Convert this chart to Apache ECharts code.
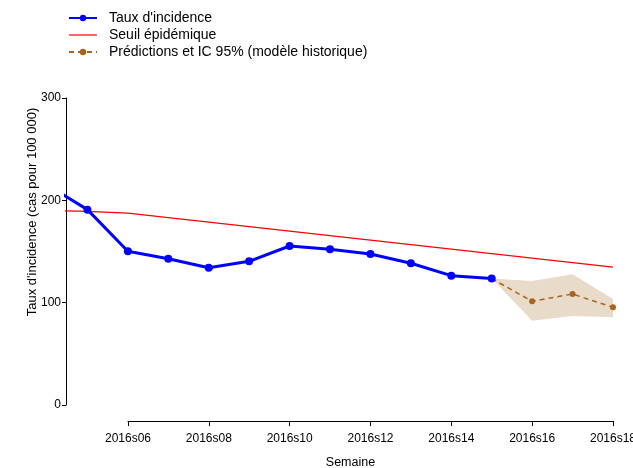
<!DOCTYPE html>
<html>
<head>
<meta charset="utf-8">
<script src="https://cdn.jsdelivr.net/npm/echarts@6/dist/echarts.min.js"></script>
<style>html,body{margin:0;padding:0;background:#fff;}#c{width:633px;height:468px;}</style>
</head>
<body>
<div id="c"></div>
<script>
const weeks = [4, 5, 6, 7, 8, 9, 10, 11, 12, 13, 14, 15];
const incidence = [215, 190.9, 150.2, 143.0, 134.2, 140.4, 155.4, 152.2, 147.6, 138.5, 126.4, 123.5];
const seuilWeeks = [4, 5, 6, 7, 8, 9, 10, 11, 12, 13, 14, 15, 16, 17, 18];
const seuil = [190.0, 189.2, 187.5, 183.1, 178.7, 174.3, 169.9, 165.5, 161.1, 156.7, 152.3, 147.9, 143.5, 139.1, 134.7];
const predWeeks = [15, 16, 17, 18];
const pred = [123.5, 101.3, 108.5, 95.4];
const icLow = [123.5, 82.4, 87.0, 85.7];
const icHigh = [123.5, 121.2, 127.7, 103.6];
const tickWeeks = [6, 8, 10, 12, 14, 16, 18];
const tickLabels = ['2016s06', '2016s08', '2016s10', '2016s12', '2016s14', '2016s16', '2016s18'];
const yTicks = [0, 100, 200, 300];

const FONT = 'Liberation Sans, Arial, Helvetica, sans-serif';
const pair = (xs, ys) => xs.map((x, i) => [x, ys[i]]);

const chart = echarts.init(document.getElementById('c'), null, {renderer: 'canvas'});
chart.setOption({
  animation: false,
  backgroundColor: '#fff',
  textStyle: {fontFamily: FONT},
  legend: {
    orient: 'vertical', left: 68, top: 11, itemGap: 3, itemWidth: 28, itemHeight: 8, padding: 0,
    textStyle: {fontSize: 14, lineHeight: 14, color: '#000', fontFamily: FONT, padding: [0, 0, 0, 7]},
    data: [
      {name: "Taux d'incidence"},
      {name: 'Seuil épidémique', icon: 'path://M0,0H28V1.2H0Z'},
      {name: 'Prédictions et IC 95% (modèle historique)'}
    ]
  },
  grid: [
    {left: 66, right: 20, top: 98, bottom: 63, outerBoundsMode: 'none', containLabel: false},
    {left: 128, right: 20, top: 98, bottom: 47, outerBoundsMode: 'none', containLabel: false}
  ],
  xAxis: [
    {gridIndex: 0, type: 'value', min: 4.47, max: 18, show: false, splitLine: {show: false}},
    {gridIndex: 1, type: 'value', min: 6, max: 18, interval: 2,
      axisLine: {show: true, onZero: false, lineStyle: {color: '#000', width: 1}},
      axisTick: {show: true, length: 5, lineStyle: {color: '#000'}},
      axisLabel: {fontSize: 12, color: '#000', margin: 12, fontFamily: FONT, showMinLabel: true, showMaxLabel: true,
        formatter: v => { const i = tickWeeks.indexOf(v); return i >= 0 ? tickLabels[i] : ''; }},
      splitLine: {show: false},
      name: 'Semaine', nameLocation: 'middle', nameGap: 35, nameMoveOverlap: false,
      nameTextStyle: {fontSize: 12.5, color: '#000', fontFamily: FONT, padding: [0, 40, 0, 0]}
    }
  ],
  yAxis: [
    {gridIndex: 0, type: 'value', min: yTicks[0], max: yTicks[yTicks.length - 1], interval: 100,
      axisLine: {show: true, lineStyle: {color: '#000', width: 1}},
      axisTick: {show: true, length: 4, lineStyle: {color: '#000'}},
      axisLabel: {fontSize: 12, color: '#000', margin: 5, fontFamily: FONT},
      splitLine: {show: false},
      name: "Taux d'incidence (cas pour 100 000)", nameLocation: 'middle', nameGap: 27, nameRotate: 90,
      nameMoveOverlap: false,
      nameTextStyle: {fontSize: 13, color: '#000', fontFamily: FONT, padding: [0, 0, 0, 79]}
    },
    {gridIndex: 1, type: 'value', show: false, min: 0, max: 300}
  ],
  series: [
    {name: 'IC 95%', type: 'custom', xAxisIndex: 0, yAxisIndex: 0, silent: true, z: 1, clip: true,
      data: predWeeks.map((w, i) => [w, icLow[i], icHigh[i]]),
      renderItem: function (params, api) {
        if (params.dataIndex !== 0) return null;
        const pts = [];
        for (let i = 0; i < predWeeks.length; i++) pts.push(api.coord([predWeeks[i], icHigh[i]]));
        for (let i = predWeeks.length - 1; i >= 0; i--) pts.push(api.coord([predWeeks[i], icLow[i]]));
        return {type: 'polygon', shape: {points: pts}, style: {fill: '#E9DBC9', stroke: null}};
      }
    },
    {name: 'Seuil épidémique', type: 'line', xAxisIndex: 0, yAxisIndex: 0, data: pair(seuilWeeks, seuil),
      symbol: 'none', smooth: false, lineStyle: {color: '#FF0000', width: 1.2}, itemStyle: {color: '#FF0000'}, z: 2},
    {name: 'Prédictions et IC 95% (modèle historique)', type: 'line', xAxisIndex: 0, yAxisIndex: 0,
      data: pair(predWeeks, pred), symbol: 'circle', symbolSize: 6, showSymbol: true,
      lineStyle: {color: '#A8651F', width: 1.5, type: [5, 4]}, itemStyle: {color: '#A8651F'}, z: 3},
    {name: "Taux d'incidence", type: 'line', xAxisIndex: 0, yAxisIndex: 0, data: pair(weeks, incidence),
      symbol: 'circle', symbolSize: 8, showSymbol: true,
      lineStyle: {color: '#0000FF', width: 3}, itemStyle: {color: '#0000FF'}, z: 4}
  ]
});
</script>
</body>
</html>
